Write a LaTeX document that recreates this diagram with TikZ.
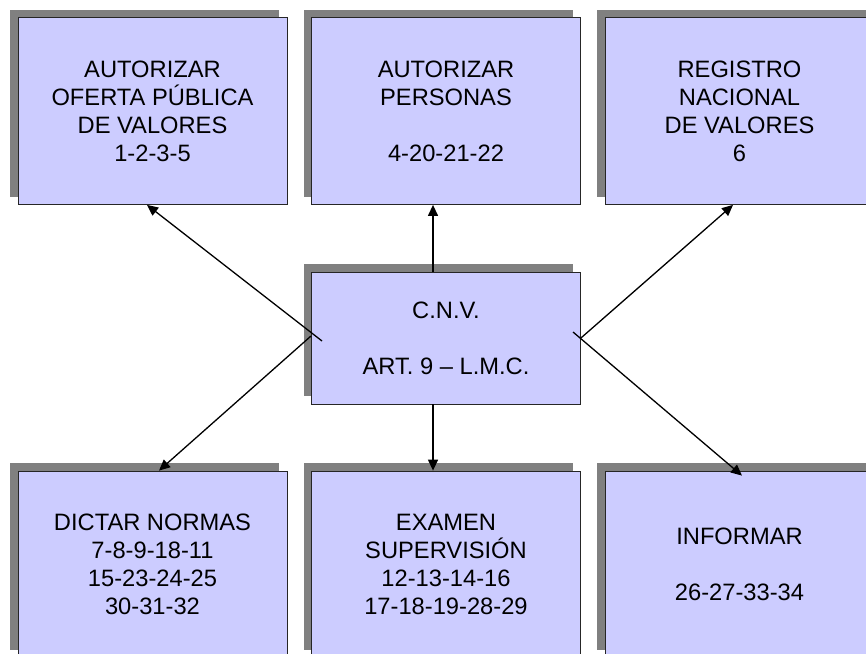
\documentclass[tikz,border=0pt]{standalone}
\usepackage{fontspec}
\setmainfont{Liberation Sans}
\usepackage{tikz}
\usetikzlibrary{arrows.meta}
\usetikzlibrary{shadows}
\usetikzlibrary{positioning}
\definecolor{boxfill}{RGB}{204,204,255}
\definecolor{shadegray}{RGB}{128,128,128}

\begin{document}
\begin{tikzpicture}[x=1pt,y=-1pt,
		caja/.style={draw=black!85, line width=0.8pt, fill=boxfill,
			minimum width=269pt, minimum height=187pt, inner sep=0pt,
			align=center, font=\fontsize{23.7}{28}\selectfont,
			drop shadow={shadow xshift=-8pt, shadow yshift=8pt, opacity=1, fill=shadegray}},
		flecha/.style={-{Triangle[length=11pt,width=10pt]}, line width=1.3pt}]
		\useasboundingbox (0,0) rectangle (866,653);
		\clip (0,0) rectangle (866,653);
		
		\node[caja] (opv) at (152.5,111) {AUTORIZAR\\OFERTA PÚBLICA\\DE VALORES\\1-2-3-5};
		\node[caja] (pers) at (446,111) {AUTORIZAR\\PERSONAS\\[28pt]4-20-21-22};
		\node[caja] (rnv) at (739.5,111) {REGISTRO\\NACIONAL\\DE VALORES\\6};
		\node[caja, minimum height=132pt] (cnv) at (446,338) {C.N.V.\\[28pt]ART. 9 – L.M.C.};
		\node[caja] (normas) at (152.5,564.5) {DICTAR NORMAS\\7-8-9-18-11\\15-23-24-25\\30-31-32};
		\node[caja] (exam) at (446,564.5) {EXAMEN\\SUPERVISIÓN\\12-13-14-16\\17-18-19-28-29};
		\node[caja] (inform) at (739.5,564.5) {INFORMAR\\[28pt]26-27-33-34};
		
		\coordinate (s1) at (322,341);
		\coordinate (s2) at (311,336);
		\coordinate (s5) at (573,332);
		
		\draw[flecha] (s1) -- ([xshift=-5.5pt]opv.south);
		\draw[flecha] ([xshift=-13pt]cnv.north) -- ([xshift=-13pt]pers.south);
		\draw[flecha] (cnv.east) -- ([xshift=-6.5pt]rnv.south);
		\draw[flecha] (s2) -- ([xshift=6.5pt]normas.north);
		\draw[flecha] ([xshift=-13pt]cnv.south) -- ([xshift=-13pt]exam.north);
		\draw[flecha] (s5) -- ([xshift=2.5pt,yshift=-5pt]inform.north);
\end{tikzpicture}
\end{document}
